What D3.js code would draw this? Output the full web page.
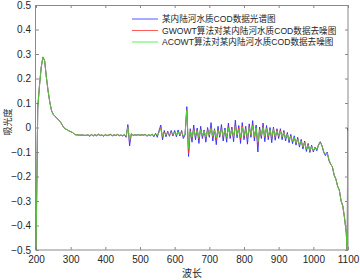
<!DOCTYPE html>
<html><head><meta charset="utf-8">
<script src="https://cdn.jsdelivr.net/npm/d3@7"></script>
<style>body{margin:0;background:#fff}svg{display:block}</style>
</head><body>
<script>
const wavelength = d3.range(200, 1100, 5).concat([1098, 1099]);
const rawSpectrum = [
-0.52,0.08,0.17,0.245,0.288,0.272,0.205,0.148,0.102,0.068,
0.053,0.045,0.038,0.031,0.024,0.012,0.000,-0.006,-0.009,-0.014,
-0.017,-0.020,-0.026,-0.030,-0.030,-0.031,-0.031,-0.031,-0.032,-0.032,
-0.030,-0.036,-0.028,-0.035,-0.029,-0.034,-0.027,-0.033,-0.030,-0.036,
-0.029,-0.034,-0.031,-0.027,-0.035,-0.030,-0.033,-0.028,-0.034,-0.031,
-0.035,-0.029,-0.040,0.012,-0.075,-0.025,-0.033,-0.030,-0.031,-0.029,
-0.032,-0.030,-0.031,-0.028,-0.036,-0.030,-0.034,-0.027,-0.038,-0.024,
-0.040,-0.012,0.010,-0.050,-0.012,-0.038,-0.015,-0.036,-0.012,-0.035,
-0.012,-0.038,-0.010,-0.035,-0.012,-0.045,-0.030,0.085,-0.118,-0.005,
-0.060,0.010,-0.050,-0.002,-0.065,0.005,-0.045,-0.010,-0.060,0.000,
-0.040,0.020,-0.055,-0.005,-0.070,0.005,-0.040,0.012,-0.055,-0.002,
-0.060,0.018,-0.045,0.002,-0.058,0.030,-0.042,0.008,-0.065,0.020,
-0.050,0.005,-0.068,0.015,-0.040,0.028,-0.055,0.010,-0.100,0.002,
-0.045,0.018,-0.058,0.008,-0.050,0.000,-0.062,0.002,-0.052,-0.005,
-0.045,-0.005,-0.050,-0.012,-0.055,-0.020,-0.062,-0.028,-0.066,-0.034,
-0.072,-0.040,-0.080,-0.048,-0.088,-0.055,-0.098,-0.065,-0.102,-0.072,
-0.100,-0.080,-0.095,-0.070,-0.058,-0.075,-0.102,-0.115,-0.100,-0.135,
-0.150,-0.160,-0.195,-0.210,-0.240,-0.255,-0.300,-0.320,-0.370,-0.430,
-0.52,-0.002];
const gwowtDenoised = [
-0.52,0.08,0.17,0.245,0.288,0.272,0.205,0.148,0.102,0.068,
0.053,0.045,0.038,0.031,0.024,0.012,0.000,-0.006,-0.009,-0.014,
-0.017,-0.020,-0.026,-0.030,-0.030,-0.031,-0.031,-0.031,-0.032,-0.032,
-0.030,-0.033,-0.030,-0.033,-0.030,-0.032,-0.029,-0.032,-0.031,-0.033,
-0.030,-0.032,-0.031,-0.029,-0.033,-0.030,-0.032,-0.029,-0.032,-0.031,
-0.033,-0.030,-0.037,0.004,-0.058,-0.027,-0.032,-0.030,-0.031,-0.030,
-0.031,-0.030,-0.031,-0.029,-0.033,-0.030,-0.032,-0.028,-0.034,-0.026,
-0.033,-0.018,0.000,-0.040,-0.018,-0.032,-0.020,-0.031,-0.018,-0.030,
-0.018,-0.032,-0.016,-0.030,-0.017,-0.038,-0.029,0.075,-0.108,-0.012,
-0.045,-0.004,-0.038,-0.010,-0.046,-0.006,-0.036,-0.013,-0.044,-0.008,
-0.034,0.002,-0.041,-0.009,-0.050,-0.007,-0.034,-0.001,-0.041,-0.007,
-0.044,0.004,-0.036,-0.004,-0.042,0.012,-0.034,-0.002,-0.047,0.008,
-0.038,-0.004,-0.047,0.004,-0.032,0.012,-0.041,0.002,-0.072,-0.006,
-0.036,0.006,-0.042,0.000,-0.038,-0.006,-0.044,-0.004,-0.040,-0.010,
-0.036,-0.012,-0.040,-0.018,-0.046,-0.026,-0.052,-0.034,-0.058,-0.040,
-0.064,-0.046,-0.072,-0.054,-0.080,-0.060,-0.090,-0.070,-0.095,-0.076,
-0.095,-0.082,-0.090,-0.072,-0.061,-0.073,-0.099,-0.110,-0.103,-0.132,
-0.149,-0.161,-0.193,-0.211,-0.239,-0.256,-0.299,-0.321,-0.369,-0.429,
-0.52,-0.010];
const acowtDenoised = [
-0.52,0.08,0.17,0.245,0.288,0.272,0.205,0.148,0.102,0.068,
0.053,0.045,0.038,0.031,0.024,0.012,0.000,-0.006,-0.009,-0.014,
-0.017,-0.020,-0.026,-0.030,-0.030,-0.031,-0.031,-0.031,-0.032,-0.032,
-0.031,-0.032,-0.030,-0.032,-0.031,-0.031,-0.030,-0.032,-0.031,-0.032,
-0.031,-0.032,-0.031,-0.030,-0.032,-0.031,-0.031,-0.030,-0.032,-0.031,
-0.032,-0.030,-0.035,0.000,-0.050,-0.028,-0.031,-0.030,-0.031,-0.030,
-0.031,-0.030,-0.031,-0.030,-0.032,-0.030,-0.031,-0.029,-0.032,-0.027,
-0.031,-0.021,-0.005,-0.036,-0.021,-0.030,-0.022,-0.029,-0.020,-0.028,
-0.020,-0.030,-0.018,-0.028,-0.019,-0.034,-0.028,0.070,-0.085,-0.016,
-0.040,-0.010,-0.034,-0.014,-0.040,-0.010,-0.032,-0.016,-0.038,-0.013,
-0.030,-0.004,-0.036,-0.012,-0.042,-0.012,-0.030,-0.006,-0.036,-0.010,
-0.038,-0.002,-0.032,-0.008,-0.036,0.004,-0.030,-0.006,-0.040,0.002,
-0.034,-0.008,-0.040,0.000,-0.028,0.006,-0.036,-0.002,-0.060,-0.010,
-0.032,0.000,-0.036,-0.004,-0.034,-0.010,-0.038,-0.008,-0.036,-0.014,
-0.034,-0.015,-0.038,-0.021,-0.044,-0.028,-0.050,-0.036,-0.056,-0.042,
-0.062,-0.048,-0.070,-0.056,-0.078,-0.062,-0.088,-0.072,-0.093,-0.078,
-0.093,-0.083,-0.088,-0.073,-0.062,-0.074,-0.098,-0.108,-0.104,-0.130,
-0.148,-0.162,-0.192,-0.212,-0.238,-0.258,-0.298,-0.322,-0.368,-0.428,
-0.52,-0.013];
const xTicks = [200,300,400,500,600,700,800,900,1000,1100];
const yTicks = [-0.5,-0.4,-0.3,-0.2,-0.1,0,0.1,0.2,0.3,0.4,0.5];
const seriesNames = ["某内陆河水质COD数据光谱图","GWOWT算法对某内陆河水质COD数据去噪图","ACOWT算法对某内陆河水质COD数据去噪图"];
const seriesColors = ["#2a2aff","#ff3030","#30ee30"];
const seriesWidths = [0.9, 0.8, 0.8];
const xLabel = "波长", yLabel = "吸光度";

const W = 360, H = 280;
const m = {l:36, r:12, t:5, b:30};
const svg = d3.select("body").append("svg").attr("width",W).attr("height",H);
const x = d3.scaleLinear().domain([200,1100]).range([m.l, W-m.r]);
const y = d3.scaleLinear().domain([-0.5,0.5]).range([H-m.b, m.t]);
const font = "'Liberation Sans', Arial, sans-serif";
const cjk = "'Noto Sans CJK SC', sans-serif";

svg.append("defs").append("clipPath").attr("id","clip").append("rect")
  .attr("x",m.l).attr("y",m.t).attr("width",W-m.r-m.l).attr("height",H-m.b-m.t);

const axColor = "#8a8a8a";
function styleAx(sel){
  sel.select(".domain").remove();
  sel.selectAll(".tick line").attr("stroke",axColor);
  sel.selectAll("text").attr("fill","#262626").style("font-family",font).style("font-size","10px");
}
svg.append("g").attr("transform",`translate(0,${H-m.b})`)
  .call(d3.axisBottom(x).tickValues(xTicks).tickSizeInner(-3).tickSizeOuter(0).tickPadding(6).tickFormat(d3.format("d")))
  .call(styleAx);
svg.append("g").attr("transform",`translate(0,${m.t})`)
  .call(d3.axisTop(x).tickValues(xTicks).tickSizeInner(-3).tickSizeOuter(0).tickFormat(""))
  .call(styleAx);
svg.append("g").attr("transform",`translate(${m.l},0)`)
  .call(d3.axisLeft(y).tickValues(yTicks).tickSizeInner(-3).tickSizeOuter(0).tickPadding(5).tickFormat(d=>d===0?"0":d3.format(".1f")(d)))
  .call(styleAx);
svg.append("g").attr("transform",`translate(${W-m.r},0)`)
  .call(d3.axisRight(y).tickValues(yTicks).tickSizeInner(-3).tickSizeOuter(0).tickFormat(""))
  .call(styleAx);
svg.append("rect").attr("x",m.l-0.5).attr("y",m.t+0.5).attr("width",W-m.r-m.l+0.5).attr("height",H-m.b-m.t-0.5)
  .attr("fill","none").attr("stroke",axColor).attr("stroke-width",1);

const series = [rawSpectrum, gwowtDenoised, acowtDenoised];
const line = d3.line().x((d,i)=>x(wavelength[i])).y(d=>y(d));
const g = svg.append("g").attr("clip-path","url(#clip)");
series.forEach((s,k)=>{
  g.append("path").datum(s).attr("d",line).attr("fill","none")
   .attr("stroke",seriesColors[k]).attr("stroke-width",seriesWidths[k]);
});

// legend
const lg = svg.append("g");
lg.append("rect").attr("x",128).attr("y",11).attr("width",216).attr("height",38).attr("fill","#fff");
seriesNames.forEach((n,i)=>{
  const yy = 19 + i*11.5;
  lg.append("line").attr("x1",132).attr("x2",158).attr("y1",yy).attr("y2",yy)
    .attr("stroke",seriesColors[i]).attr("stroke-width",0.8);
  lg.append("text").attr("x",162).attr("y",yy+3).text(n)
    .style("font-family",font+","+cjk).style("font-size","8.6px").attr("fill","#262626");
});

svg.append("text").attr("x",(m.l+W-m.r)/2).attr("y",H-3).attr("text-anchor","middle")
  .text(xLabel).style("font-family",cjk).style("font-size","10px").attr("fill","#262626");
svg.append("text").attr("transform",`translate(10.5,122) rotate(-90)`).attr("text-anchor","middle")
  .text(yLabel).style("font-family",cjk).style("font-size","9px").attr("fill","#262626");
</script>
</body></html>
